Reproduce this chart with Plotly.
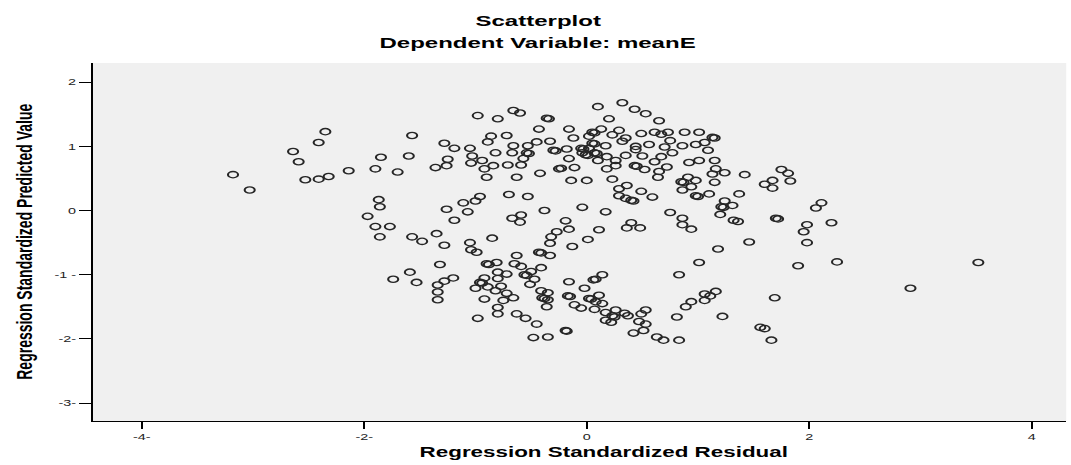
import plotly.graph_objects as go

# Regression standardized residual (x) and standardized predicted value (y)
resid = [
    -3.18, -3.03, -2.35, -2.41, -2.64, -2.59, -2.53, -2.41, -2.32, -2.14, -1.85, -1.90, -1.70, -1.57, -1.60,
    -0.98, -0.80, -1.28, -1.19, -1.05, -0.86, -0.89, -0.82, -1.25, -1.26, -1.36, -1.03, -1.04, -0.94, -0.92,
    -0.84, -0.90, -1.87, -1.86, -1.97, -1.90, -1.77, -1.86, -1.57, -1.48, -1.35, -1.28, -0.96, -1.00, -1.11,
    -1.26, -1.07, -1.19, -1.05, -0.85, -1.04, -0.99,
    -1.32, -0.90, -0.88, -0.81, -1.59, -1.74, -1.53, -1.28, -1.20, -1.34, -1.34, -1.34, -0.92, -0.96, -0.94,
    -1.00, -0.89, -0.82, -0.80, -0.80, -0.92, -0.80, -0.80, -0.98,
    -0.65, -0.59, -0.41, -0.72, -0.56, -0.54, -0.50, -0.47, -0.77, -0.72, -0.66, -0.75, -0.63, -0.55, -0.45,
    -0.48, -0.35, -0.19, -0.18, -0.51, -0.41, -0.35, -0.40, -0.38, -0.35, -0.36, -0.16, -0.02, -0.17, -0.15,
    0.08, 0.06, 0.14, -0.11, -0.05, 0.02, 0.04, 0.11, 0.08, 0.14, 0.07, 0.17, 0.26, 0.23, 0.25, 0.17, 0.22,
    0.34, 0.37, 0.49, 0.53, 0.47, 0.53, 0.51, 0.42, 0.63, 0.69, 0.83, 0.81, 0.89, 0.94, 1.06, 1.06, 1.11,
    1.16, 1.22, 1.69, 1.56, 1.60, 1.66, 1.01, 1.90, 0.83,
    0.10, 0.32, 0.43, 0.53, 0.65, 0.20, -0.66, -0.60, -0.36, -0.34, -0.43, -0.16, 0.05, 0.07, 0.13, 0.29,
    0.49, 0.61, 0.73, 0.88, 1.01, 1.13, 1.15, -0.72, -0.66, -0.53, -0.45, -0.33, -0.12, 0.02, 0.23, 0.35,
    0.67, 0.75, 1.06, -0.67, -0.54, -0.52, -0.30, -0.28, -0.18, -0.05, -0.03, 0.05, 0.07, 0.17, 0.32, 0.44,
    0.56, 0.70, 0.86, 0.98, 1.09, -0.71, -0.57, -0.59, -0.25, -0.23, -0.11, -0.16, -0.01, 0.01, 0.07, 0.09,
    0.10, 0.18, 0.26, 0.26, 0.18, 0.35, 0.44, 0.50, 0.43, 0.45, 0.52, 0.61, 0.67, 0.77, 0.72, 0.65, 0.64,
    0.92, 1.01, 1.15, 1.16, 1.24, 1.13, 1.42, 1.75, 1.81, 1.83, 1.67, 1.60, 1.67, -0.42, -0.63, -0.14, 0.00,
    0.23, 0.36, 0.29, 0.29, 0.35, 0.40, 0.42, 0.49, 0.59, 0.85, 0.87, 0.91, 0.98, 0.94, 0.86, 0.98, 1.00,
    1.10, 1.15, 1.37, 1.24, 1.21, 1.23, 1.31, 1.20, 1.32, 1.36, 1.70, 1.72, 1.98, 1.95, 1.98, 0.75, 0.86,
    0.86, 0.94, 1.18, 1.46, 0.17, -0.04, 0.40, 0.36, 0.48, 0.11, -0.38, -0.59, -0.67, -0.60, -0.19, -0.16,
    -0.27, -0.32, -0.33, 0.01, -0.13, -0.70, -0.53, -0.43, -0.41, -0.63, -0.33, 0.02, -0.04,
    2.11, 2.06, 2.20, 2.25, 3.52, 2.91,
]
pred = [
    0.56, 0.32, 1.23, 1.06, 0.92, 0.76, 0.48, 0.49, 0.53, 0.62, 0.83, 0.65, 0.60, 1.17, 0.85,
    1.48, 1.43, 1.05, 0.97, 0.97, 1.16, 1.07, 0.90, 0.80, 0.70, 0.67, 0.85, 0.74, 0.78, 0.65,
    0.70, 0.52, 0.17, 0.06, -0.09, -0.25, -0.25, -0.41, -0.41, -0.48, -0.36, -0.54, 0.22, 0.15, 0.12,
    0.02, -0.02, -0.15, -0.50, -0.43, -0.61, -0.65,
    -0.84, -0.83, -0.84, -0.81, -0.96, -1.07, -1.12, -1.10, -1.05, -1.16, -1.27, -1.39, -1.05, -1.12, -1.13,
    -1.21, -1.19, -1.25, -0.96, -1.06, -1.38, -1.51, -1.61, -1.68,
    -0.83, -0.87, -0.89, -0.99, -1.00, -1.01, -0.95, -1.07, -1.18, -1.29, -1.36, -1.40, -1.61, -1.68, -1.77,
    -1.98, -1.97, -1.87, -1.88, -1.15, -1.25, -1.28, -1.36, -1.37, -1.39, -1.50, -1.11, -1.21, -1.33, -1.34,
    -1.07, -1.08, -1.00, -1.47, -1.52, -1.37, -1.38, -1.32, -1.42, -1.45, -1.54, -1.59, -1.55, -1.64, -1.66, -1.71, -1.74,
    -1.60, -1.64, -1.61, -1.55, -1.73, -1.77, -1.87, -1.91, -1.97, -2.02, -2.02, -1.66, -1.50, -1.42, -1.40, -1.30, -1.33,
    -1.26, -1.65, -1.36, -1.82, -1.84, -2.02, -0.81, -0.86, -1.00,
    1.62, 1.68, 1.58, 1.51, 1.40, 1.43, 1.56, 1.52, 1.44, 1.43, 1.27, 1.27, 1.22, 1.21, 1.27, 1.25,
    1.20, 1.22, 1.22, 1.22, 1.22, 1.14, 1.13, 1.17, 1.01, 1.01, 1.07, 1.08, 1.13, 1.16, 1.18, 1.13,
    1.19, 1.09, 1.06, 0.90, 0.90, 0.89, 0.94, 0.93, 0.96, 0.97, 0.96, 1.05, 1.04, 1.01, 1.08, 1.00,
    1.03, 0.99, 1.01, 1.03, 0.94, 0.71, 0.81, 0.71, 0.65, 0.66, 0.67, 0.81, 0.87, 0.86, 0.90, 0.89,
    0.78, 0.84, 0.78, 0.70, 0.65, 0.86, 0.95, 0.85, 0.70, 0.69, 0.64, 0.76, 0.84, 0.90, 0.68, 0.61, 0.52,
    0.75, 0.78, 0.78, 0.65, 0.59, 0.57, 0.56, 0.64, 0.58, 0.46, 0.47, 0.41, 0.35, 0.58, 0.52, 0.47, 0.47,
    0.49, 0.39, 0.34, 0.23, 0.19, 0.16, 0.15, 0.30, 0.21, 0.45, 0.44, 0.52, 0.47, 0.37, 0.32, 0.23, 0.22,
    0.26, 0.44, 0.26, 0.15, 0.06, 0.05, 0.08, -0.06, -0.15, -0.17, -0.12, -0.13, -0.22, -0.33, -0.50, -0.03, -0.12,
    -0.22, -0.29, -0.60, -0.49, -0.02, 0.05, -0.19, -0.27, -0.27, -0.30, 0.00, -0.07, -0.12, -0.18, -0.16, -0.29,
    -0.33, -0.41, -0.51, -0.45, -0.56, 0.25, 0.22, -0.65, -0.66, -0.70, -0.70, 0.97, 0.90,
    0.12, 0.04, -0.19, -0.80, -0.81, -1.21,
]

x_tickvals = [-4, -2, 0, 2, 4]
x_ticktext = ["-4-", "-2-", "0", "2", "4"]
y_tickvals = [-3, -2, -1, 0, 1, 2]
y_ticktext = ["-3-", "-2-", "-1 -", "0", "1", "2"]

title_line1 = "Scatterplot"
title_line2 = "Dependent Variable: meanE"
x_title = "Regression Standardized Residual"
y_title = "Regression Standardized Predicted Value"

BASE_W = 669          # the SPSS picture is stretched horizontally
STRETCH = 1071 / BASE_W
FONT = "Liberation Sans, Arial, Helvetica, sans-serif"

fig = go.Figure(
    go.Scatter(
        x=resid, y=pred, mode="markers", hoverinfo="skip",
        marker=dict(symbol="circle-open", size=6.3, color="#262626",
                    line=dict(width=1.3, color="#262626")),
    )
)

axis_common = dict(
    showgrid=False, zeroline=False, showline=True, linecolor="#000000",
    linewidth=1.3, ticks="outside", tickcolor="#000000", tickwidth=1.1,
    tickfont=dict(family=FONT, size=9, color="#222222"),
)
fig.update_layout(
    width=BASE_W, height=465,
    margin=dict(l=57.7, r=2.5, t=63, b=44, pad=0),
    paper_bgcolor="white", plot_bgcolor="#f0f0f0",
    showlegend=False,
    font=dict(family=FONT, color="#000000"),
    xaxis=dict(range=[-4.44, 4.31], tickmode="array", tickvals=x_tickvals,
               ticktext=x_ticktext, ticklen=7, **axis_common),
    yaxis=dict(range=[-3.28, 2.30], tickmode="array", tickvals=y_tickvals,
               ticktext=y_ticktext, ticklen=7.5, **axis_common),
    annotations=[
        dict(text=f"<b>{title_line1}</b>", xref="paper", yref="paper", x=0.458, y=1.120,
             xanchor="center", yanchor="middle", showarrow=False,
             font=dict(family=FONT, size=15, color="#000")),
        dict(text=f"<b>{title_line2}</b>", xref="paper", yref="paper", x=0.458, y=1.056,
             xanchor="center", yanchor="middle", showarrow=False,
             font=dict(family=FONT, size=15, color="#000")),
        dict(text=f"<b>{x_title}</b>", xref="paper", yref="paper", x=0.525, y=-0.087,
             xanchor="center", yanchor="middle", showarrow=False,
             font=dict(family=FONT, size=14, color="#000")),
        dict(text=f"<b>{y_title}</b>", xref="paper", yref="paper", x=-0.071, y=0.5,
             xanchor="center", yanchor="middle", showarrow=False, textangle=-90,
             font=dict(family=FONT, size=14, color="#000")),
    ],
)

post = """
var gd = document.getElementById('{plot_id}');
document.documentElement.style.margin = '0';
document.body.style.margin = '0';
document.body.style.overflow = 'hidden';
gd.style.transformOrigin = '0 0';
gd.style.transform = 'scaleX(%f)';
""" % STRETCH

fig.write_html("out.html", post_script=post, config={"displayModeBar": False})
